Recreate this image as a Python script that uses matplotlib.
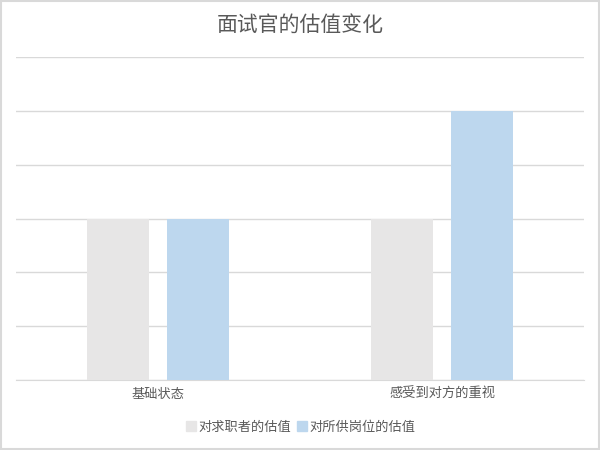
import matplotlib.pyplot as plt
import numpy as np
from matplotlib.patches import Rectangle

plt.rcParams['font.family'] = ['Noto Sans CJK SC', 'DejaVu Sans']

# data
categories = ['基础状态', '感受到对方的重视']
series_names = ['对求职者的估值', '对所供岗位的估值']
candidate_vals = [3, 3]
position_vals = [3, 5]
colors = ['#E7E6E6', '#BDD7EE']

fig = plt.figure(figsize=(6, 4.5), dpi=100)
fig.patch.set_facecolor('white')
# outer border like the chart area frame
fig.add_artist(Rectangle((0.002, 0.002), 0.996, 0.996, transform=fig.transFigure,
                         fill=False, edgecolor='#D9D9D9', linewidth=1.5))

ax = fig.add_axes([0.027, 1 - 380 / 450, 0.947, (380 - 57) / 450])

x = np.arange(len(categories))
w = 0.218
off = 0.141
ax.bar(x - off, candidate_vals, w, color=colors[0], label=series_names[0], zorder=3)
ax.bar(x + off, position_vals, w, color=colors[1], label=series_names[1], zorder=3)

ax.set_xlim(-0.5, len(categories) - 0.5)
ax.set_ylim(0, 6)
ax.set_yticks(np.arange(0, 7, 1))
ax.set_yticklabels([])
ax.tick_params(axis='y', length=0)
ax.grid(True, axis='y', color='#D9D9D9', linewidth=1, zorder=0)
ax.set_xticks(x)
ax.set_xticklabels(categories, fontsize=9.5, color='#595959')
ax.tick_params(axis='x', length=0, pad=6)
for s in ['top', 'right', 'left']:
    ax.spines[s].set_visible(False)
ax.spines['bottom'].set_color('#D9D9D9')

fig.text(0.5, 1 - 25 / 450, '面试官的估值变化', ha='center', va='center',
         fontsize=15, color='#595959', fontweight='medium')

handles = [plt.Line2D([], [], marker='s', linestyle='', markersize=7,
                      markerfacecolor=c, markeredgecolor=c) for c in colors]
fig.legend(handles, series_names, loc='center', bbox_to_anchor=(0.5, 1 - 427 / 450),
           ncol=2, frameon=False, fontsize=9.5, labelcolor='#595959',
           handletextpad=0.1, columnspacing=0.3, handlelength=1)

plt.savefig('out.png', dpi=100, facecolor='white')
